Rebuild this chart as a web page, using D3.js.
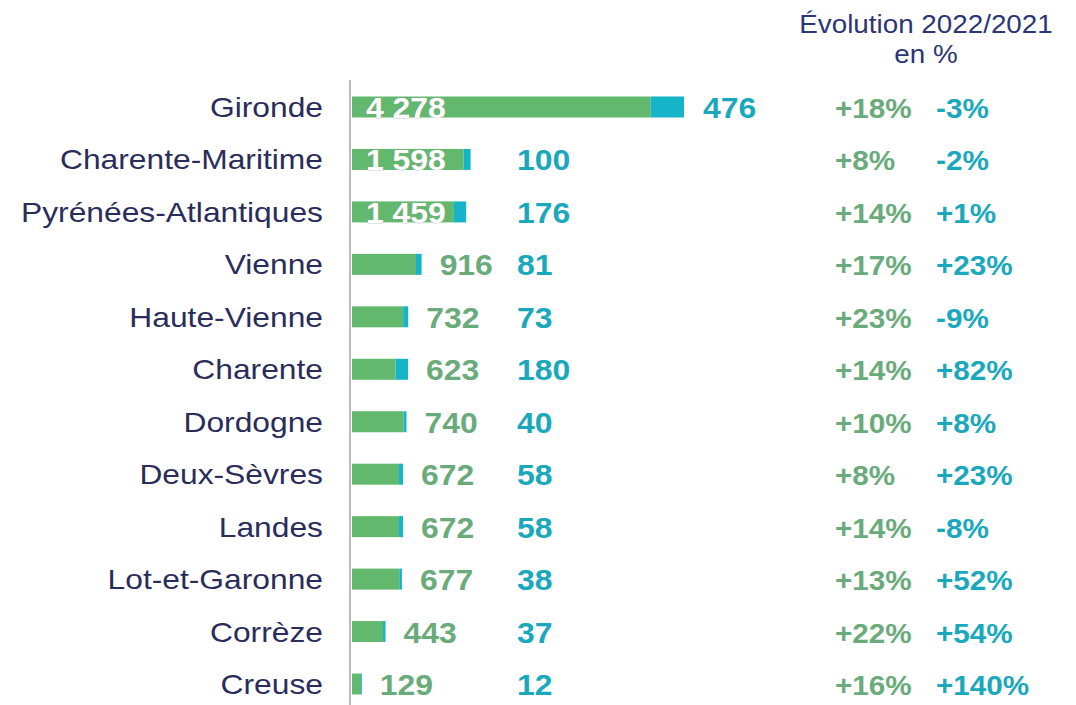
<!DOCTYPE html>
<html lang="fr">
<head>
<meta charset="UTF-8">
<title>Départements</title>
<script src="https://cdn.jsdelivr.net/npm/d3@7"></script>
<style>
  body { margin: 0; background: #fff; }
  text { font-family: "Liberation Sans", Arial, sans-serif; }
</style>
</head>
<body>
<svg id="chart" width="1076" height="705"></svg>
<script>
// data
const departements = ["Gironde", "Charente-Maritime", "Pyrénées-Atlantiques", "Vienne", "Haute-Vienne",
  "Charente", "Dordogne", "Deux-Sèvres", "Landes", "Lot-et-Garonne", "Corrèze", "Creuse"];
const valeurs2022 = [4278, 1598, 1459, 916, 732, 623, 740, 672, 672, 677, 443, 129];
const valeursAutres = [476, 100, 176, 81, 73, 180, 40, 58, 58, 38, 37, 12];
const evolVert = ["+18%", "+8%", "+14%", "+17%", "+23%", "+14%", "+10%", "+8%", "+14%", "+13%", "+22%", "+16%"];
const evolBleu = ["-3%", "-2%", "+1%", "+23%", "-9%", "+82%", "+8%", "+23%", "-8%", "+52%", "+54%", "+140%"];
const titre = ["Évolution 2022/2021", "en %"];

const vert = "#62b96e", bleu = "#15b4c8";
const texteVert = "#6aab7b", texteBleu = "#1aa8bc", marine = "#2a2d5c";

const svg = d3.select("#chart");

const x = d3.scaleLinear().domain([0, 4754]).range([352, 684]);
const y = d3.scalePoint().domain(departements).range([107, 684]);
const barH = 21;

// draws text stretched horizontally, like the source picture
function txt(g, tx, ty, s, opts) {
  return g.append("text")
    .attr("transform", `translate(${tx},${ty}) scale(${opts.sx || 1},1)`)
    .attr("text-anchor", opts.anchor || "start")
    .attr("font-size", opts.size)
    .attr("font-weight", opts.bold ? "bold" : "normal")
    .attr("fill", opts.fill)
    .text(s);
}

// header
txt(svg, 926, 33, titre[0], { size: 26, sx: 1.07, anchor: "middle", fill: "#2c3677" });
txt(svg, 926, 63, titre[1], { size: 26, sx: 1.07, anchor: "middle", fill: "#2c3677" });

// axis line
svg.append("line")
  .attr("x1", 350).attr("x2", 350)
  .attr("y1", 80).attr("y2", 705)
  .attr("stroke", "#babaca").attr("stroke-width", 2);

const rows = svg.selectAll("g.row")
  .data(departements.map((d, i) => ({ nom: d, a: valeurs2022[i], b: valeursAutres[i], i })))
  .join("g").attr("class", "row");

rows.each(function (d) {
  const g = d3.select(this);
  const cy = y(d.nom);
  const end = x(d.a + d.b);

  txt(g, 323, cy + 10, d.nom, { size: 28, sx: 1.135, anchor: "end", fill: marine });

  g.append("rect")
    .attr("x", x(0)).attr("y", cy - barH / 2)
    .attr("width", x(d.a) - x(0)).attr("height", barH)
    .attr("fill", vert);
  g.append("rect")
    .attr("x", x(d.a)).attr("y", cy - barH / 2)
    .attr("width", x(d.a + d.b) - x(d.a)).attr("height", barH)
    .attr("fill", bleu);

  const fmt = d3.format(",")(d.a).replace(",", " ");
  const inside = d.i < 3;
  const lab = txt(g, inside ? 366 : end + 18, cy + 11, fmt,
    { size: 29, sx: 1.1, bold: true, fill: inside ? "#fff" : texteVert });
  if (inside) lab.attr("stroke", "#9a9a9a").attr("stroke-width", 0.6).attr("paint-order", "stroke");

  const bx = d.i === 0 ? end + 19 : 517;
  txt(g, bx, cy + 11, d.b, { size: 29, sx: 1.1, bold: true, fill: texteBleu });

  txt(g, 835, cy + 11, evolVert[d.i], { size: 28, sx: 1.06, bold: true, fill: texteVert });
  txt(g, 936, cy + 11, evolBleu[d.i], { size: 28, sx: 1.06, bold: true, fill: texteBleu });
});
</script>
</body>
</html>
